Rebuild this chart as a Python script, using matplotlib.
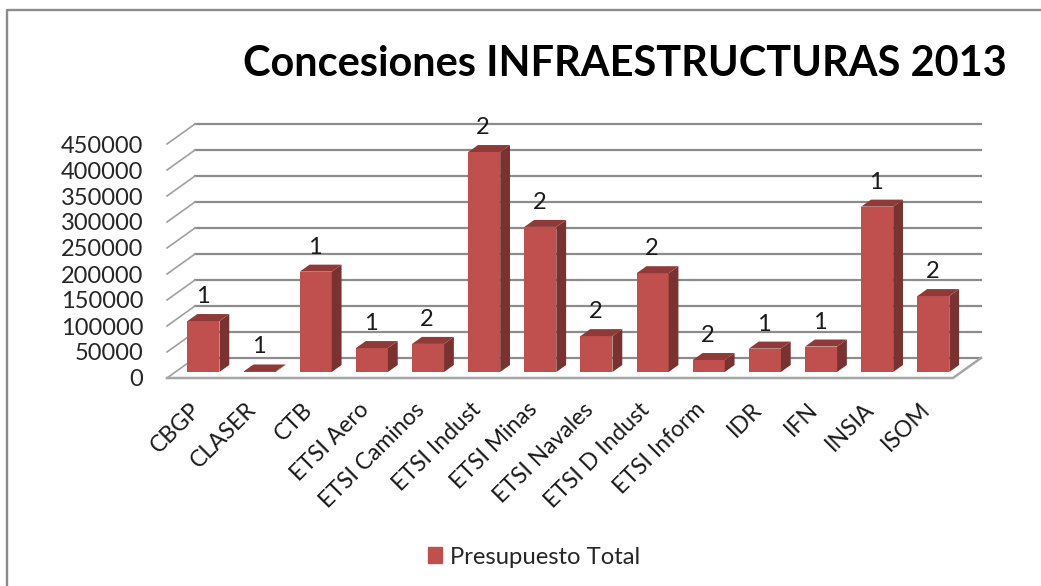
# -*- coding:utf-8 -*-
import matplotlib
matplotlib.use('Agg')
import matplotlib.pyplot as plt
from matplotlib.patches import Patch, Polygon
from matplotlib.transforms import Affine2D

categorias = ['CBGP', 'CLASER', 'CTB', 'ETSI Aero', 'ETSI Caminos', 'ETSI Indust', 'ETSI Minas',
              'ETSI Navales', 'ETSI D Indust', 'ETSI Inform', 'IDR', 'IFN', 'INSIA', 'ISOM']
presupuesto = [98000, 1000, 193000, 46000, 54000, 423000, 279000,
               69000, 190000, 23000, 45000, 49000, 318000, 146000]
concesiones = [1, 1, 1, 1, 2, 2, 2, 2, 2, 2, 1, 1, 1, 2]
ticks_y = [0, 50000, 100000, 150000, 200000, 250000, 300000, 350000, 400000, 450000]

W, H = 1041, 586
ROJO = '#C0504D'
LADO = '#7A3230'
TECHO = '#8F3A38'
GRIS = '#8C8C8C'
FUENTE = 'Lato'

fig = plt.figure(figsize=(W / 100, H / 100), dpi=100, facecolor='w')
# frente del suelo: x 167-953, y=378; valor 450000 en y=144
ax = fig.add_axes([167 / W, 1 - 378 / H, (953 - 167) / W, (378 - 144) / H])
ax.set_xlim(-0.5, 13.5)
ax.set_ylim(0, 450000)
ax.patch.set_visible(False)
for s in ax.spines.values():
    s.set_visible(False)

# profundidad del grafico en unidades de datos
prof_x = 28 / 56.14
prof_y = 20 / 26 * 50000
x0, x1 = ax.get_xlim()

# paredes y suelo
for v in ticks_y:
    ax.plot([x0 + prof_x, x1 + prof_x], [v + prof_y, v + prof_y], color=GRIS, lw=1.6, zorder=1, clip_on=False)
    ax.plot([x0, x0 + prof_x], [v, v + prof_y], color='#A0A0A0', lw=1.2, zorder=1, clip_on=False)
ax.plot([x0, x1, x1 + prof_x], [0, 0, prof_y], color='#A6A6A6', lw=1.8, zorder=1, clip_on=False)

# barras
ancho = 0.57
d0, d1 = 0.3, 0.65
for i, v in enumerate(presupuesto):
    izq = i + d0 * prof_x - ancho / 2
    der = izq + ancho
    base = d0 * prof_y
    sube = (d1 - d0) * prof_y
    corre = (d1 - d0) * prof_x
    ax.bar(izq + ancho / 2, v, ancho, bottom=base, color=ROJO, zorder=3 + i, clip_on=False)
    ax.add_patch(Polygon([(der, base), (der + corre, base + sube), (der + corre, base + sube + v), (der, base + v)],
                         closed=True, facecolor=LADO, edgecolor='none', zorder=3 + i, clip_on=False))
    ax.add_patch(Polygon([(izq, base + v), (der, base + v), (der + corre, base + sube + v), (izq + corre, base + sube + v)],
                         closed=True, facecolor=TECHO, edgecolor='none', zorder=3 + i, clip_on=False))
    ax.annotate(str(concesiones[i]), (izq + ancho / 2, base + sube + v), xytext=(-1, 7), textcoords='offset pixels',
                ha='center', va='bottom', fontsize=17, family=FUENTE, color='#1A1A1A', zorder=30)

ax.set_yticks(ticks_y)
ax.set_yticklabels([str(t) for t in ticks_y], fontsize=17, family=FUENTE, color='#262626')
ax.set_xticks(range(len(categorias)))
ax.set_xticklabels(categorias, rotation=45, ha='right', rotation_mode='anchor', fontsize=16.5,
                   family=FUENTE, color='#1A1A1A')
ax.tick_params(axis='both', length=0)
ax.tick_params(axis='y', pad=17)
ax.tick_params(axis='x', pad=15)
# las etiquetas quedan un poco a la izquierda de cada categoria
for t in ax.get_xticklabels():
    t.set_transform(t.get_transform() + Affine2D().translate(-5.5, 0))

fig.text(243 / W, 1 - 63.5 / H, 'Concesiones INFRAESTRUCTURAS 2013', fontsize=29.9, fontweight='bold',
         family=FUENTE, ha='left', va='center', color='k')

ax.legend(handles=[Patch(color=ROJO, label='Presupuesto Total')], loc='center', frameon=False,
          bbox_to_anchor=(534 / W, 1 - 557 / H), bbox_transform=fig.transFigure,
          prop={'family': FUENTE, 'size': 17.2}, handlelength=0.6, handleheight=0.6, handletextpad=0.3,
          labelcolor='#262626')

# marco
fig.add_artist(plt.Line2D([7 / W, 7 / W, 1], [0, 1 - 10 / H, 1 - 10 / H], color='#8C8C8C', lw=1.7))

fig.savefig('out.png', dpi=100)
